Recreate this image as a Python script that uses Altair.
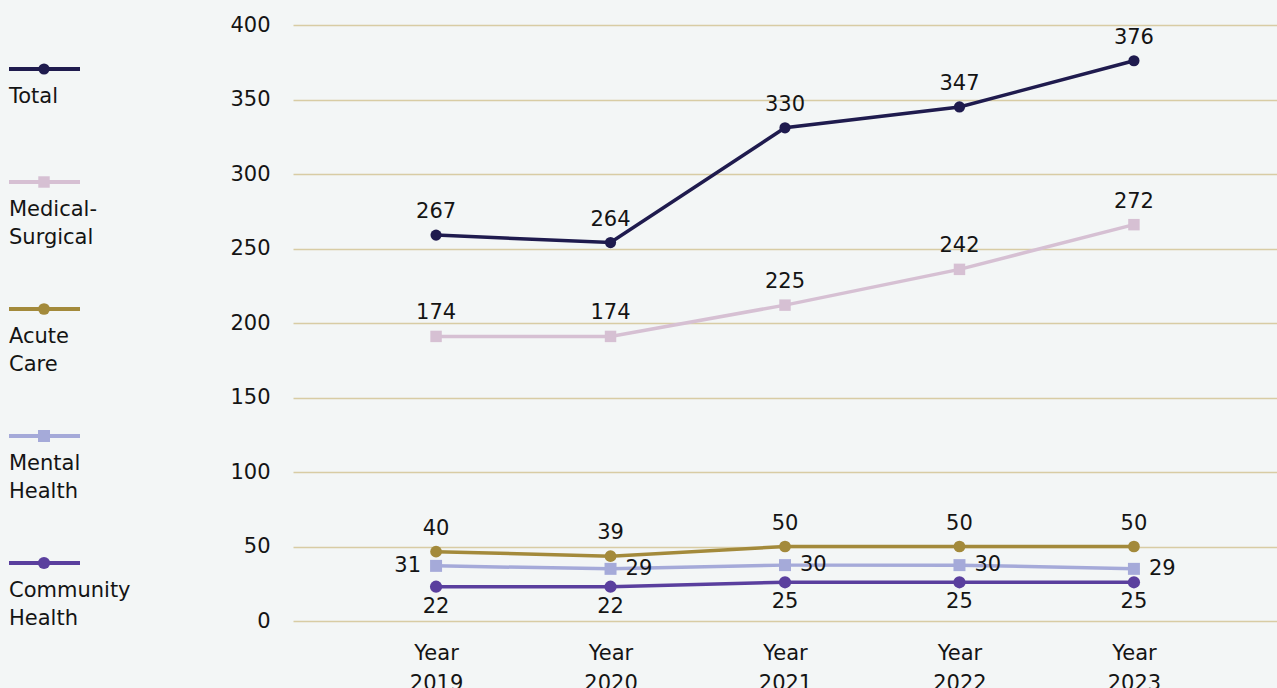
import altair as alt
import pandas as pd

years = ["2019", "2020", "2021", "2022", "2023"]
series = ["Total", "Medical-Surgical", "Acute Care", "Mental Health", "Community Health"]

# plotted positions and printed labels
total_plot = [259, 254, 331, 345, 376]
total_text = [267, 264, 330, 347, 376]
med_plot = [191, 191, 212, 236, 266]
med_text = [174, 174, 225, 242, 272]
acute_plot = [46.5, 43.5, 50, 50, 50]
acute_text = [40, 39, 50, 50, 50]
mental_plot = [37, 35, 37.5, 37.5, 35]
mental_text = [31, 29, 30, 30, 29]
comm_plot = [23, 23, 26, 26, 26]
comm_text = [22, 22, 25, 25, 25]

legend_lines = [["Total"], ["Medical-", "Surgical"], ["Acute", "Care"],
                ["Mental", "Health"], ["Community", "Health"]]
colors = ["#1f1b4e", "#d6c0d3", "#a38a3b", "#a5aad9", "#5a3f9e"]
shapes = ["circle", "square", "circle", "square", "circle"]
sizes = [125, 150, 115, 150, 115]

FONT = "DejaVu Sans"
TXT = "#141414"
FS = 21

plots = [total_plot, med_plot, acute_plot, mental_plot, comm_plot]
texts = [total_text, med_text, acute_text, mental_text, comm_text]
rows = []
for s, pv, tv in zip(series, plots, texts):
    for i, (y, p, t) in enumerate(zip(years, pv, tv)):
        rows.append({"series": s, "year": y, "yi": i, "value": p, "label": str(t)})
df = pd.DataFrame(rows)

color = alt.Color("series:N", scale=alt.Scale(domain=series, range=colors), legend=None)
shape = alt.Shape("series:N", scale=alt.Scale(domain=series, range=shapes), legend=None)
size = alt.Size("series:N", scale=alt.Scale(domain=series, range=sizes), legend=None)

x = alt.X("year:N", sort=years,
          scale=alt.Scale(type="point", padding=0.82),
          axis=alt.Axis(title=None, labelExpr="['Year', datum.label]", labelAngle=0,
                        labelFontSize=FS, labelLineHeight=30, labelPadding=21,
                        ticks=False, domain=False, labelColor=TXT, labelFont=FONT,
                        grid=False))
y = alt.Y("value:Q", scale=alt.Scale(domain=[0, 400], nice=False),
          axis=alt.Axis(title=None, values=list(range(0, 401, 50)), grid=True,
                        gridColor="#d8cca4", gridWidth=1.4, ticks=False, domain=False,
                        labelPadding=23, labelFontSize=FS, labelColor=TXT, labelFont=FONT,
                        minExtent=143, maxExtent=143))

base = alt.Chart(df)
lines = base.mark_line(strokeWidth=3.5).encode(x=x, y=y, color=color, detail="series:N")
points = base.mark_point(filled=True, opacity=1).encode(x=x, y=y, color=color, shape=shape, size=size)

tkw = dict(fontSize=FS, font=FONT, color=TXT)
above = base.transform_filter(
    alt.FieldOneOfPredicate(field="series", oneOf=["Total", "Medical-Surgical", "Acute Care"])
).mark_text(dy=-23, **tkw).encode(x=x, y=y, text="label:N")
below = base.transform_filter(alt.datum.series == "Community Health").mark_text(
    dy=20, **tkw).encode(x=x, y=y, text="label:N")
mental_r = base.transform_filter(
    (alt.datum.series == "Mental Health") & (alt.datum.yi > 0)
).mark_text(align="left", dx=15, **tkw).encode(x=x, y=y, text="label:N")
mental_l = base.transform_filter(
    (alt.datum.series == "Mental Health") & (alt.datum.yi == 0)
).mark_text(align="right", dx=-15, **tkw).encode(x=x, y=y, text="label:N")

main = alt.layer(lines, points, above, below, mental_r, mental_l).properties(width=984, height=596)

# legend panel
leg_df = pd.DataFrame({
    "series": series,
    "idx": list(range(len(series))),
    "lines": legend_lines,
    "nlines": [len(l) for l in legend_lines],
})
leg_scale = alt.Scale(domain=[-72 / 127, 524 / 127], reverse=True, nice=False, zero=False)
lbase = alt.Chart(leg_df).transform_calculate(
    sym="datum.idx - (14 * (datum.nlines - 1) + 28) / 127",
    ty="datum.idx - 14 * (datum.nlines - 1) / 127",
)
leg_rule = lbase.mark_rule(strokeWidth=4).encode(
    x=alt.value(9), x2=alt.value(80),
    y=alt.Y("sym:Q", scale=leg_scale, axis=None), color=color)
leg_pt = lbase.mark_point(filled=True, opacity=1).encode(
    x=alt.value(44), y=alt.Y("sym:Q", scale=leg_scale, axis=None),
    color=color, shape=shape, size=size)
leg_txt = lbase.mark_text(align="left", baseline="middle", lineHeight=28, **tkw).encode(
    x=alt.value(9), y=alt.Y("ty:Q", scale=leg_scale, axis=None), text="lines")
legend = alt.layer(leg_rule, leg_pt, leg_txt).properties(width=150, height=596)

chart = alt.hconcat(legend, main, spacing=0).resolve_scale(
    x="independent", y="independent"
).properties(
    padding={"top": 14, "left": 0, "right": 0, "bottom": 0},
    background="#f3f6f6",
).configure_view(strokeWidth=0)

chart.save("out.html", embed_options={"renderer": "svg", "actions": False})
